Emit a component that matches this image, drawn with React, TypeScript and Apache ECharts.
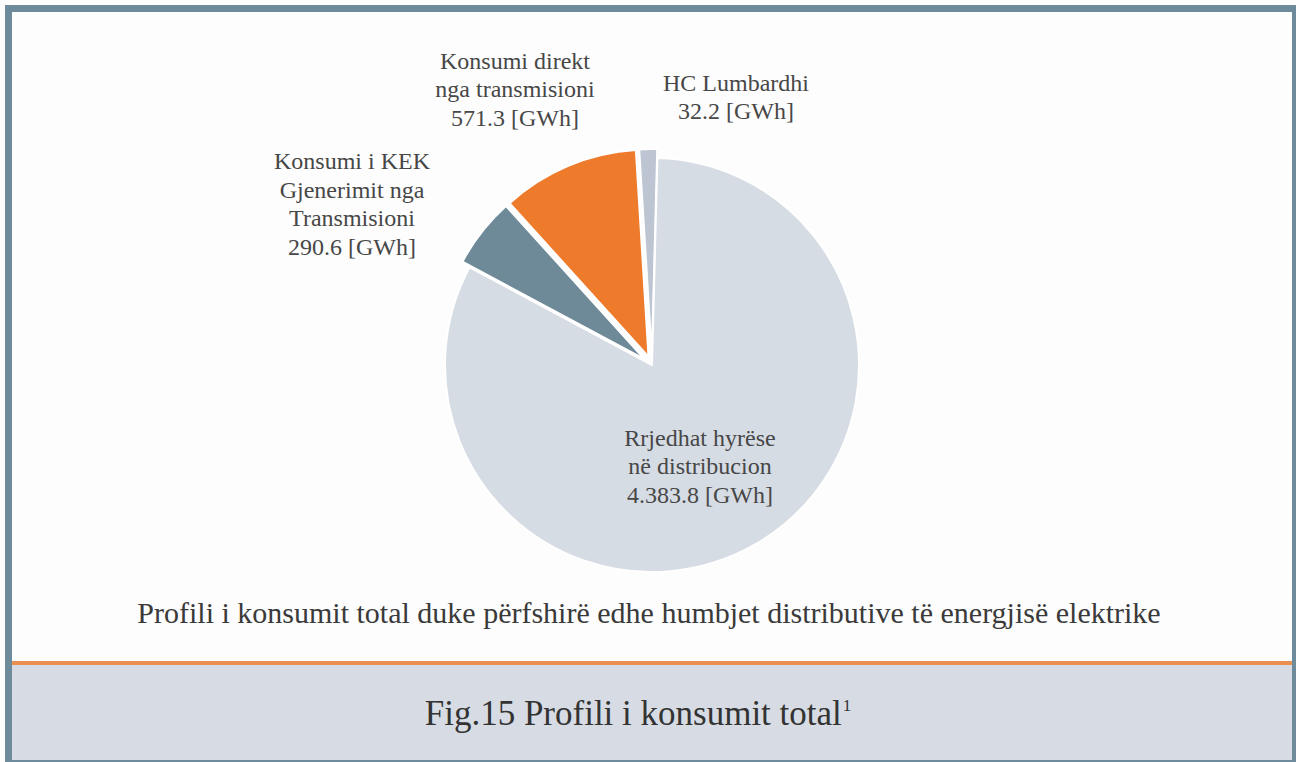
import React, { useEffect, useRef } from "react";
import * as echarts from "echarts";

const categories = [
  "HC Lumbardhi",
  "Rrjedhat hyrëse në distribucion",
  "Konsumi i KEK Gjenerimit nga Transmisioni",
  "Konsumi direkt nga transmisioni",
];
const labelNames = [
  "HC Lumbardhi",
  "Rrjedhat hyrëse\nnë distribucion",
  "Konsumi i KEK\nGjenerimit nga\nTransmisioni",
  "Konsumi direkt\nnga transmisioni",
];
const values = [32.2, 4383.8, 290.6, 571.3];
const unit = "[GWh]";
const exploded = [true, false, true, true];
const sliceColors = ["#bcc5d1", "#d6dce4", "#6e8a98", "#ee7a2c"];
const labelPos: [number, number][] = [
  [736, 97],
  [700, 466],
  [352, 204],
  [515, 89],
];
const subtitle =
  "Profili i konsumit total duke përfshirë edhe humbjet distributive të energjisë elektrike";
const caption = "Fig.15 Profili i konsumit total";
const footnote = "1";

function fmt(v: number): string {
  const [i, d] = v.toFixed(1).split(".");
  const withSep = i.replace(/\B(?=(\d{3})+(?!\d))/g, ".");
  return withSep + "." + d;
}

const FAM = "'Liberation Serif', 'DejaVu Serif', serif";

export default function App() {
  const ref = useRef<HTMLDivElement>(null);
  useEffect(() => {
    if (!ref.current) return;
    const chart = echarts.init(ref.current, null, { renderer: "svg" });
    const labelGraphics = values.map((v, i) => ({
      type: "text",
      z: 10,
      x: labelPos[i][0],
      y: labelPos[i][1],
      style: {
        text: labelNames[i] + "\n" + fmt(v) + " " + unit,
        fill: "#474747",
        font: `24px ${FAM}`,
        lineHeight: 28.5,
        align: "center",
        verticalAlign: "middle",
      },
    }));
    chart.setOption({
      animation: false,
      backgroundColor: "#fdfdfd",
      graphic: [
        {
          type: "rect",
          z: 0,
          shape: { x: 12, y: 665, width: 1280, height: 96 },
          style: { fill: "#d7dce4" },
        },
        {
          type: "rect",
          z: 1,
          shape: { x: 12, y: 661, width: 1280, height: 4 },
          style: { fill: "#ea8f50" },
        },
        {
          type: "rect",
          z: 2,
          shape: { x: 8.5, y: 8.5, width: 1287, height: 755 },
          style: { fill: "none", stroke: "#6d8b9a", lineWidth: 7 },
        },
        {
          type: "text",
          z: 3,
          x: 649,
          y: 612,
          style: {
            text: subtitle,
            fill: "#3a3a3a",
            font: `30px ${FAM}`,
            align: "center",
            verticalAlign: "middle",
          },
        },
        {
          type: "text",
          z: 3,
          x: 638,
          y: 713,
          style: {
            text: "{c|" + caption + "}{s|" + footnote + "}",
            fill: "#333333",
            font: `35px ${FAM}`,
            align: "center",
            verticalAlign: "middle",
            rich: {
              c: { font: `35px ${FAM}`, fill: "#333333" },
              s: {
                font: `17px ${FAM}`,
                fill: "#333333",
                padding: [0, 0, 16, 1],
              },
            },
          },
        },
        ...labelGraphics,
      ],
      series: [
        {
          type: "pie",
          center: [652, 365],
          radius: 207,
          startAngle: 93.5,
          clockwise: true,
          minAngle: 5,
          selectedMode: "multiple",
          selectedOffset: 9,
          emphasis: { disabled: true },
          itemStyle: { borderColor: "#ffffff", borderWidth: 2 },
          labelLine: { show: false },
          label: { show: false },
          data: categories.map((c, i) => ({
            name: c,
            value: values[i],
            selected: exploded[i],
            itemStyle: { color: sliceColors[i] },
          })),
        },
      ],
    });
    return () => chart.dispose();
  }, []);
  return (
    <div
      ref={ref}
      style={{ position: "fixed", left: 0, top: 0, width: 1296, height: 762 }}
    />
  );
}
